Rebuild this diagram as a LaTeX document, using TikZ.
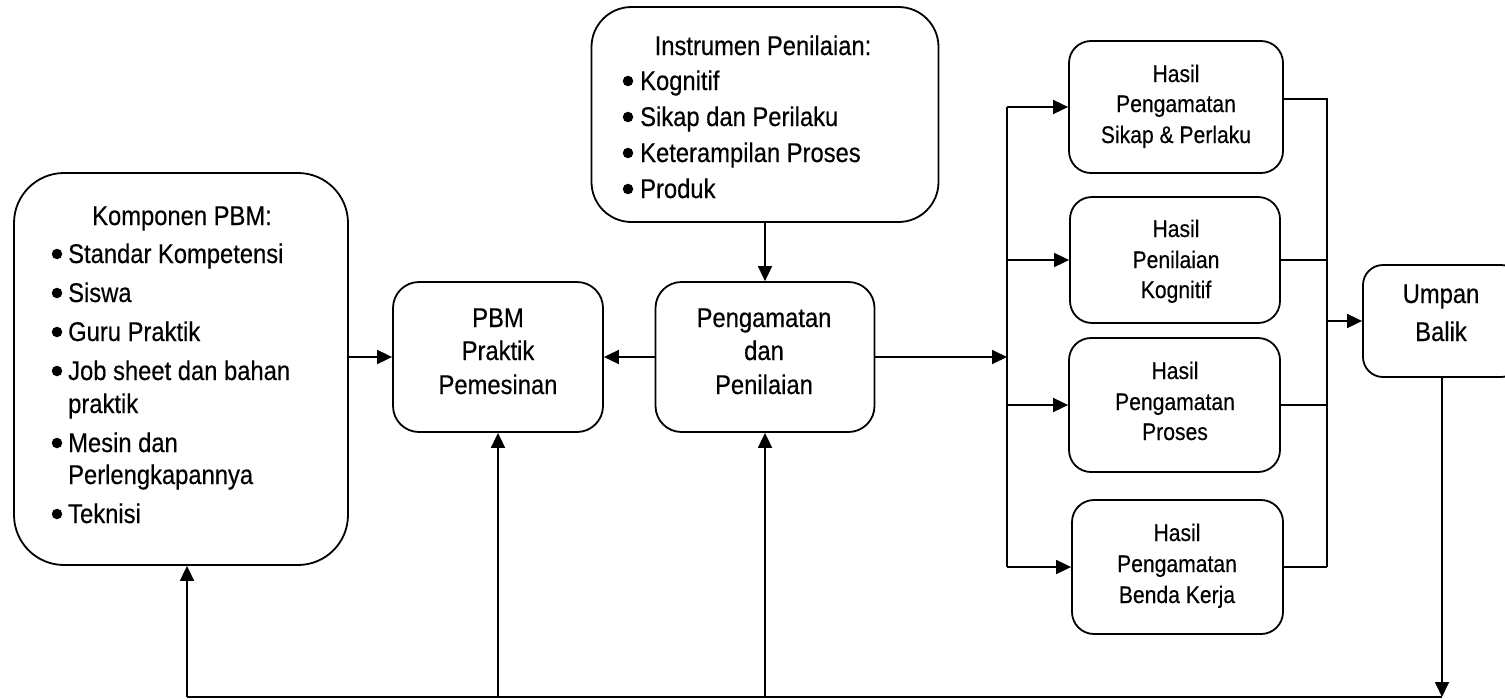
\documentclass[tikz,border=0pt]{standalone}
\usepackage{fontspec}
\setmainfont{Liberation Sans}[FakeStretch=0.88, FakeBold=0.35]
\usetikzlibrary{arrows.meta}
\begin{document}
\begin{tikzpicture}[x=1pt,y=-1pt,
  box/.style={draw, line width=1.8pt, rounded corners=#1, inner sep=0pt},
  box/.default=22pt,
  ln/.style={line width=1.8pt},
  arr/.style={line width=1.8pt, -{Triangle[length=15pt,width=14pt]}},
  big/.style={inner sep=0pt, font=\fontsize{27}{33}\selectfont},
  small/.style={inner sep=0pt, font=\fontsize{24}{29}\selectfont},
  dot/.style={circle, fill, inner sep=0pt, minimum size=10.5pt}]
\useasboundingbox (0,0) rectangle (1505,699);
\fill[white] (0,0) rectangle (1505,699);

% ---- boxes ----
\node[box=50pt, minimum width=334pt, minimum height=392pt] (komp) at (181,369) {};
\node[box=40pt, minimum width=347pt, minimum height=215pt] (instr) at (765,114.5) {};
\node[box=26pt, minimum width=210pt, minimum height=150pt] (pbm) at (498,357) {};
\node[box=26pt, minimum width=219pt, minimum height=150pt] (amat) at (765,357) {};
\node[box, minimum width=214pt, minimum height=132pt] (h1) at (1176,107) {};
\node[box, minimum width=210pt, minimum height=126pt] (h2) at (1175,260) {};
\node[box, minimum width=211pt, minimum height=134pt] (h3) at (1174.5,405) {};
\node[box, minimum width=211pt, minimum height=134pt] (h4) at (1177.5,567) {};
\node[box=20pt, minimum width=158pt, minimum height=112pt] (umpan) at (1442,321) {};

% ---- Komponen PBM list ----
\node[big, anchor=base] (kt0) at (182,225) {Komponen PBM:};
\foreach \y [count=\i] in {263, 302, 341, 380, 452, 523}
  \node[dot] (kb\i) at (57,\y-9) {};
\foreach \y/\t [count=\i] in {263/Standar Kompetensi, 302/Siswa, 341/Guru Praktik,
    380/Job sheet dan bahan, 413/praktik, 452/Mesin dan, 484/Perlengkapannya, 523/Teknisi}
  \node[big, anchor=base west] (kt\i) at (68,\y) {\t};

% ---- Instrumen Penilaian list ----
\node[big, anchor=base] (it0) at (763,55) {Instrumen Penilaian:};
\foreach \y/\t [count=\i] in {90/Kognitif, 126/Sikap dan Perilaku,
    162/Keterampilan Proses, 198/Produk}{
  \node[dot] (ib\i) at (628,\y-9) {};
  \node[big, anchor=base west] (it\i) at (640,\y) {\t};
}

% ---- centre boxes ----
\foreach \y/\t [count=\i] in {327/PBM, 360/Praktik, 394/Pemesinan}
  \node[big, anchor=base] (pt\i) at (498,\y) {\t};
\foreach \y/\t [count=\i] in {327/Pengamatan, 360/dan, 394/Penilaian}
  \node[big, anchor=base] (at\i) at (764,\y) {\t};

% ---- result boxes ----
\foreach \y/\t [count=\i] in {82/Hasil, 112/Pengamatan, 143/Sikap \& Perlaku}
  \node[small, anchor=base] (ha\i) at (1176,\y) {\t};
\foreach \y/\t [count=\i] in {237/Hasil, 268/Penilaian, 298/Kognitif}
  \node[small, anchor=base] (hb\i) at (1176,\y) {\t};
\foreach \y/\t [count=\i] in {379/Hasil, 410/Pengamatan, 440/Proses}
  \node[small, anchor=base] (hc\i) at (1175,\y) {\t};
\foreach \y/\t [count=\i] in {541/Hasil, 572/Pengamatan, 603/Benda Kerja}
  \node[small, anchor=base] (hd\i) at (1177,\y) {\t};

% ---- feedback box ----
\node[big, anchor=base] (ut1) at (1441,303) {Umpan};
\node[big, anchor=base] (ut2) at (1441,341) {Balik};

% ---- connectors ----
\coordinate (sl) at (1007,0);
\coordinate (sr) at (1327,0);
\coordinate (b1) at (187,697);
\coordinate (b2) at (498,697);
\coordinate (b3) at (765,697);
\coordinate (b4) at (1442,697);

\draw[arr] (instr.south) -- (amat.north);
\draw[arr] (komp.east |- pbm.west) -- (pbm.west);
\draw[arr] (amat.west) -- (pbm.east);
\draw[arr] (amat.east) -- (amat.east -| sl);

\draw[ln] (h1.west -| sl) -- (h4.west -| sl);
\foreach \h in {h1,h2,h3,h4}
  \draw[arr] (\h.west -| sl) -- (\h.west);

\draw[ln] ([yshift=8pt]h1.east) -| (h4.east -| sr);
\foreach \h in {h2,h3,h4}
  \draw[ln] (\h.east) -- (\h.east -| sr);
\draw[arr] (umpan.west -| sr) -- (umpan.west);

\draw[arr] (umpan.south) -- (b4);
\draw[ln] (b1) -- (b4);
\draw[arr] (b1) -- (b1 |- komp.south);
\draw[arr] (b2) -- (pbm.south);
\draw[arr] (b3) -- (amat.south);
\end{tikzpicture}
\end{document}
